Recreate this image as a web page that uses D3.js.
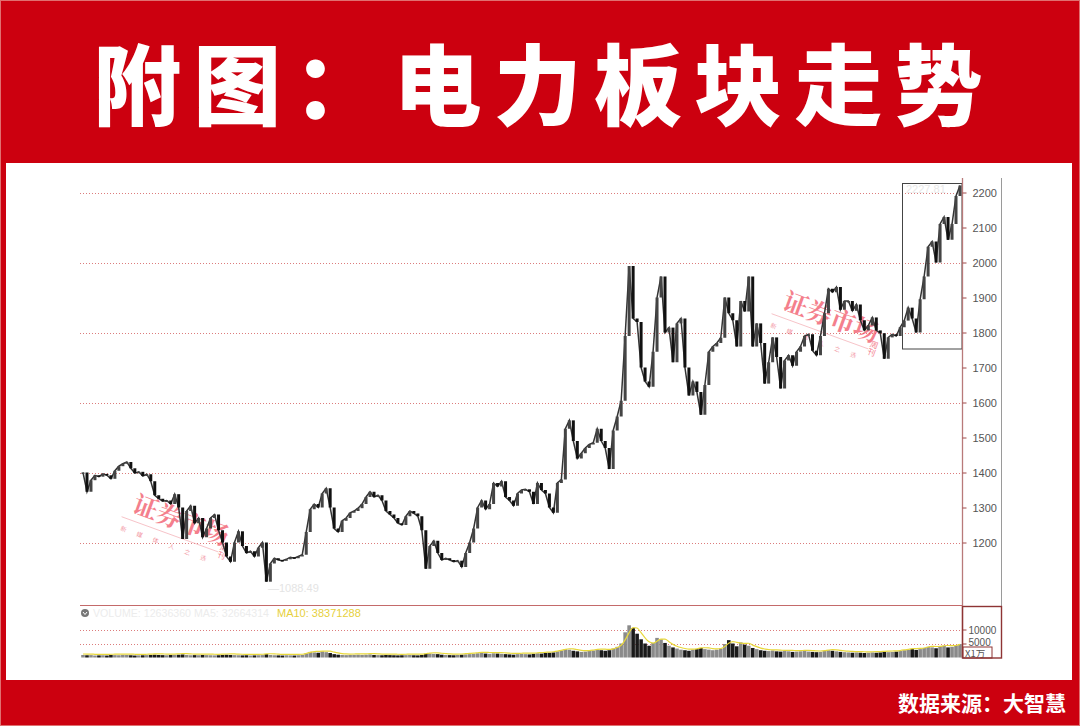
<!DOCTYPE html>
<html><head><meta charset="utf-8">
<script src="https://cdn.jsdelivr.net/npm/d3@7/dist/d3.min.js"></script>
<style>html,body{margin:0;padding:0;background:#cc000f;}svg{display:block;}</style>
</head><body>
<svg id="c" width="1080" height="726"></svg>
<script>
const titleText = "附图：电力板块走势";
const sourceText = "数据来源：大智慧";
const priceTicks = [1200,1300,1400,1500,1600,1700,1800,1900,2000,2100,2200];
const gridTicks = [1200,1400,1600,1800,2000,2200];
const volTicks = [5000,10000];
const volUnit = "X1万";
const legendFaint = "VOLUME: 12636360 MA5: 32664314";
const legendMA10 = "MA10: 38371288";
const lowLabel = "—1088.49";
const highLabel = "2227.81";
const watermark = "证券市场";
const watermarkSub = "周刊";
// closing levels, one per sampled bar
const closes = [1400,1345,1378,1392,1388,1396,1392,1382,1405,1418,1425,1430,1412,1398,1402,1390,1395,1375,1335,1325,
1318,1320,1310,1338,1300,1210,1290,1305,1255,1270,1215,1240,1270,1280,1235,1200,1160,1145,1200,1232,
1190,1170,1175,1160,1185,1200,1088,1140,1155,1150,1148,1152,1158,1155,1160,1165,1230,1295,1310,1300,
1340,1355,1300,1240,1230,1262,1270,1285,1290,1298,1310,1330,1345,1330,1335,1320,1290,1280,1270,1255,
1250,1275,1290,1283,1275,1235,1125,1190,1205,1170,1150,1155,1150,1145,1148,1130,1170,1200,1240,1300,
1320,1295,1310,1370,1360,1375,1330,1320,1305,1340,1350,1352,1345,1310,1370,1350,1340,1300,1285,1370,
1380,1525,1549,1490,1440,1455,1470,1480,1485,1525,1490,1470,1410,1520,1560,1605,1790,1990,1840,1830,
1700,1660,1645,1745,1900,1960,1800,1814,1715,1826,1840,1700,1620,1660,1630,1565,1650,1745,1760,1770,
1785,1900,1855,1835,1760,1890,1860,1960,1760,1826,1770,1654,1715,1786,1730,1640,1720,1735,1705,1745,
1760,1790,1795,1748,1735,1790,1855,1925,1915,1930,1865,1890,1890,1862,1880,1835,1806,1820,1843,1806,
1798,1725,1786,1795,1790,1815,1834,1871,1840,1800,1895,1960,2045,2060,2000,2110,2130,2065,2110,2190,2220];
// volume per sampled bar (unit: 万)
const volumes = [900,800,850,700,750,800,700,900,850,800,950,900,800,700,750,800,850,900,1000,900,
850,800,900,950,1000,1100,900,800,850,800,900,850,800,750,800,900,1000,900,850,800,
750,800,700,750,800,850,1200,900,800,750,700,800,750,700,800,900,1500,2000,1800,1700,
2200,1900,1600,1200,1000,900,850,900,950,1000,900,1000,1100,900,850,800,900,850,800,750,
800,850,900,800,750,900,1300,1400,1300,1200,1000,900,850,800,900,1000,1100,1200,1300,1500,
1600,1400,1300,1500,1400,1300,1200,1100,1000,1200,1300,1200,1100,1300,1500,1400,1600,1700,1800,2200,
2500,3000,2800,2400,2200,2000,2100,2300,2500,2800,2600,2400,2600,3200,3800,5000,9000,11500,10500,8500,
6500,5000,4200,5200,7000,6500,5200,4200,3600,3200,2800,2600,2400,2800,3000,3400,3000,2800,2600,2800,
3200,4800,6200,5000,4000,5400,4600,4200,3400,3000,2600,2400,2300,2500,2200,2100,2300,2200,2000,2100,
2200,2300,2100,2000,1900,2000,2300,2600,2400,2200,2000,1900,1800,1700,1800,1700,1600,1700,1800,1700,
1800,2000,1900,2000,2100,2300,2600,2800,3000,2700,3000,3400,3800,3600,3300,4000,4200,3600,3800,4400,4800];
const maWindow = 3;

const svg = d3.select("#c");
const W = 1080, H = 726;

// backgrounds
svg.append("rect").attr("x",0).attr("y",0).attr("width",W).attr("height",H).attr("fill","#cc000f");
svg.append("rect").attr("x",0.5).attr("y",0.5).attr("width",W-1).attr("height",H-1).attr("fill","none").attr("stroke","#e07070").attr("stroke-width",1);
svg.append("rect").attr("x",6).attr("y",163).attr("width",1066).attr("height",517).attr("fill","#ffffff");

// title
svg.append("text").attr("x",93).attr("y",118)
  .attr("font-family","'Noto Sans CJK SC','Noto Sans CJK JP',sans-serif")
  .attr("font-weight",900).attr("font-size",88).attr("letter-spacing",12.2)
  .attr("fill","#ffffff").text(titleText);

// footer
svg.append("text").attr("x",1066).attr("y",711).attr("text-anchor","end")
  .attr("font-family","'Noto Sans CJK SC',sans-serif").attr("font-weight",700)
  .attr("font-size",21).attr("fill","#ffffff").text(sourceText);

// scales
const x = d3.scaleLinear().domain([0, closes.length-1]).range([83, 960]);
const y = d3.scaleLinear().domain([1200, 2200]).range([542.5, 192.5]);
const yv = d3.scaleLinear().domain([0, 10000]).range([657.5, 629.5]);

const left = 80, axisX = 962.5;

// price grid (dotted)
svg.append("g").selectAll("line").data(gridTicks).join("line")
  .attr("x1",left).attr("x2",axisX).attr("y1",d=>Math.round(y(d))+0.5).attr("y2",d=>Math.round(y(d))+0.5)
  .attr("stroke","#dc7c7c").attr("stroke-width",1).attr("stroke-dasharray","1,2");
// volume grid
svg.append("g").selectAll("line").data(volTicks).join("line")
  .attr("x1",left).attr("x2",axisX).attr("y1",d=>Math.round(yv(d))+0.5).attr("y2",d=>Math.round(yv(d))+0.5)
  .attr("stroke","#dc7c7c").attr("stroke-width",1).attr("stroke-dasharray","1,2");

// watermarks
function wm(cx, cy){
  const g = svg.append("g").attr("transform",`translate(${cx},${cy}) rotate(20)`).attr("opacity",0.7);
  g.append("text").attr("x",-48).attr("y",0)
    .attr("font-family","'Noto Serif CJK SC','Noto Sans CJK SC',serif").attr("font-size",25).attr("font-weight",700)
    .attr("fill","#f04a5c").text(watermark);
  g.append("text").attr("x",52).attr("y",-2).attr("font-size",8).attr("fill","#f04a5c")
    .attr("font-family","'Noto Sans CJK SC',sans-serif").attr("writing-mode","tb").text(watermarkSub);
  g.append("line").attr("x1",-55).attr("x2",48).attr("y1",8).attr("y2",8).attr("stroke","#f3a0a8").attr("stroke-width",0.8);
  g.append("text").attr("x",-52).attr("y",21).attr("font-size",6).attr("fill","#ee6677")
    .attr("font-family","'Noto Sans CJK SC',sans-serif").attr("letter-spacing",11).text("新媒体人之选");
}
wm(176, 528);
wm(826, 325);

// candles: body from previous close to close
const bars = closes.map((c,i)=>({i, o: i===0? c : closes[i-1], c}));
svg.append("path").datum(closes)
  .attr("d", d3.line().x((d,i)=>x(i)).y(d=>y(d)))
  .attr("fill","none").attr("stroke","#333").attr("stroke-width",1.5);
svg.append("g").selectAll("rect").data(bars).join("rect")
  .attr("x",d=>x(d.i)-1.5).attr("width",3)
  .attr("y",d=>y(Math.max(d.o,d.c))).attr("height",d=>Math.max(1.5, Math.abs(y(d.o)-y(d.c))))
  .attr("fill",d=> d.c>=d.o ? "#444" : "#111");

// faint labels
svg.append("text").attr("x",268).attr("y",592).attr("font-family","Liberation Sans, Arial, sans-serif")
  .attr("font-size",11).attr("fill","#e4e4e4").text(lowLabel);
svg.append("text").attr("x",906).attr("y",193).attr("font-family","Liberation Sans, Arial, sans-serif")
  .attr("font-size",11).attr("fill","#e8e8e8").text(highLabel);

// highlight box
svg.append("rect").attr("x",902.5).attr("y",183.5).attr("width",59.5).attr("height",165.5)
  .attr("fill","none").attr("stroke","#444").attr("stroke-width",1);

// volume bars
const vbars = volumes.map((v,i)=>({i,v,up: i===0 || closes[i]>=closes[i-1]}));
svg.append("g").selectAll("rect").data(vbars).join("rect")
  .attr("x",d=>x(d.i)-1.8).attr("width",3.6)
  .attr("y",d=>yv(d.v)).attr("height",d=>yv(0)-yv(d.v))
  .attr("fill",d=>d.up? "#8a8a8a" : "#1a1a1a");
const ma = volumes.map((v,i)=> d3.mean(volumes.slice(Math.max(0,i-maWindow+1), i+1)));
svg.append("path").datum(ma)
  .attr("d", d3.line().x((d,i)=>x(i)).y(d=>yv(d)-1).curve(d3.curveMonotoneX))
  .attr("fill","none").attr("stroke","#e8d83a").attr("stroke-width",1.2);

// pane separators
svg.append("line").attr("x1",left).attr("x2",axisX).attr("y1",605.5).attr("y2",605.5).attr("stroke","#c46a6a").attr("stroke-width",1.2);
svg.append("line").attr("x1",axisX).attr("x2",axisX).attr("y1",178).attr("y2",658).attr("stroke","#b87a7a").attr("stroke-width",1.3);
svg.append("line").attr("x1",1001.5).attr("x2",1001.5).attr("y1",178).attr("y2",606).attr("stroke","#9a9a9a").attr("stroke-width",1);

// right price axis
const ax = svg.append("g").attr("transform",`translate(${axisX},0)`)
  .call(d3.axisRight(y).tickValues(priceTicks).tickSize(4).tickPadding(6).tickFormat(d3.format("d")));
ax.select(".domain").remove();
ax.selectAll("line").attr("stroke","#a04848");
ax.selectAll("text").attr("font-family","Liberation Sans, Arial, sans-serif").attr("font-size",11).attr("fill","#555");

// volume legend
svg.append("circle").attr("cx",85).attr("cy",613).attr("r",4).attr("fill","#777");
svg.append("path").attr("d","M83,612 L85,614.5 L87,612").attr("fill","none").attr("stroke","#fff").attr("stroke-width",1);
svg.append("text").attr("x",93).attr("y",617).attr("font-family","Liberation Sans, Arial, sans-serif")
  .attr("font-size",11).attr("textLength",176).attr("lengthAdjust","spacingAndGlyphs")
  .attr("fill","#ececec").text(legendFaint);
svg.append("text").attr("x",277).attr("y",617).attr("font-family","Liberation Sans, Arial, sans-serif")
  .attr("font-size",11).attr("fill","#e6d03c").text(legendMA10);

// volume axis
const vax = svg.append("g").attr("transform",`translate(${axisX},0)`)
  .call(d3.axisRight(yv).tickValues(volTicks).tickSize(4).tickPadding(2).tickFormat(d3.format("d")));
vax.select(".domain").remove();
vax.selectAll("line").attr("stroke","#a04848");
vax.selectAll("text").attr("font-family","Liberation Sans, Arial, sans-serif").attr("font-size",10).attr("fill","#555");
vax.selectAll(".tick").filter(d=>d===5000).select("text").attr("dy","0.15em");
vax.selectAll(".tick").filter(d=>d===10000).select("text").attr("dy","0.42em");
svg.append("rect").attr("x",963).attr("y",647).attr("width",29).attr("height",11)
  .attr("fill","#fff").attr("stroke","#8e3434").attr("stroke-width",1);
svg.append("text").attr("x",965).attr("y",656.5).attr("font-family","'Noto Sans CJK SC',sans-serif")
  .attr("font-size",9.5).attr("fill","#555").text(volUnit);
svg.append("rect").attr("x",962.5).attr("y",606.5).attr("width",39).attr("height",51.5)
  .attr("fill","none").attr("stroke","#8e3434").attr("stroke-width",1.4);
</script>
</body></html>
